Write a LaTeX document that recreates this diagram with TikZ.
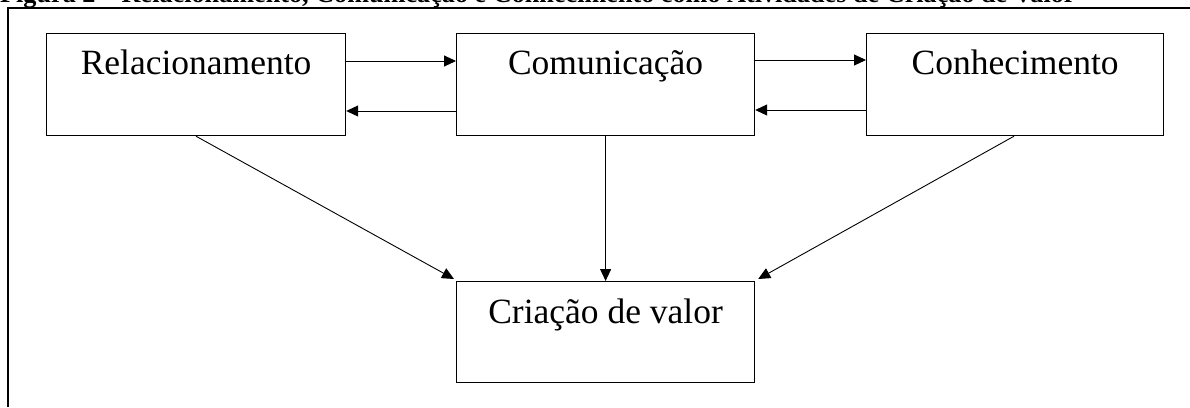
\documentclass[tikz,border=0pt]{standalone}
\usepackage{fontspec}
\setmainfont{Liberation Serif}
\usetikzlibrary{arrows.meta}
\begin{document}
\begin{tikzpicture}[x=1pt,y=-1pt,
  box/.style={draw, line width=1.2pt, inner sep=0pt, anchor=north west,
    text height=41pt, text depth=61pt,
    font=\fontsize{35.5}{40}\selectfont},
  conn/.style={line width=0.9pt, -{Triangle[length=12pt,width=11pt]}},
  frameline/.style={line width=2pt}]
\useasboundingbox (0,0) rectangle (1190,407);
\begin{scope}
\clip (0,0) rectangle (1190,407);
\node[anchor=base west, inner sep=0pt, text height=0pt, text depth=0pt,
  font=\bfseries\fontsize{26.2}{26}\selectfont] (title) at (0,2.5)
  {Figura 2 – Relacionamento, Comunicação e Conhecimento como Atividades de Criação de Valor};
\end{scope}
\coordinate (fa) at (7.5,7.5);
\coordinate (fb) at (1190,7.5);
\coordinate (fc) at (7.5,407);
\draw[frameline] (fb) -- (fa) -- (fc);
\node[box, minimum width=299pt] (rel) at (46,33) {Relacionamento};
\node[box, minimum width=298pt] (com) at (456,33) {Comunicação};
\node[box, minimum width=297pt] (con) at (866,33) {Conhecimento};
\node[box, minimum width=298pt, text height=42pt, text depth=59pt] (cri) at (456,281) {Criação de valor};
\draw[conn] ([yshift=-28pt]rel.north east) -- ([yshift=-28pt]com.north west);
\draw[conn] ([yshift=-78pt]com.north west) -- ([yshift=-78pt]rel.north east);
\draw[conn] ([yshift=-27pt]com.north east) -- ([yshift=-27pt]con.north west);
\draw[conn] ([yshift=-77pt]con.north west) -- ([yshift=-77pt]com.north east);
\draw[conn] ([xshift=150pt]rel.south west) -- ([xshift=-2pt,yshift=2pt]cri.north west);
\draw[conn] (com.south) -- (cri.north);
\draw[conn] ([xshift=148pt]con.south west) -- ([xshift=3pt,yshift=2pt]cri.north east);
\end{tikzpicture}
\end{document}
